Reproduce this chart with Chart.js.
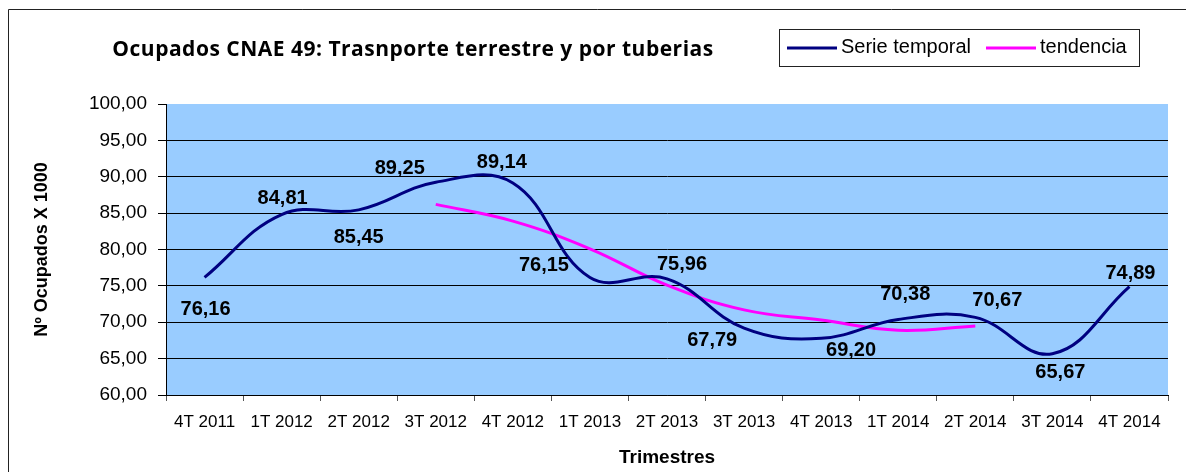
<!DOCTYPE html>
<html>
<head>
<meta charset="utf-8">
<script src="https://cdn.jsdelivr.net/npm/chart.js@4.4.1/dist/chart.umd.min.js"></script>
<style>
  html, body { margin: 0; padding: 0; background: #fff; }
  #wrap { width: 1186px; height: 472px; }
</style>
</head>
<body>
<div id="wrap"><canvas id="chart" width="1186" height="472"></canvas></div>
<script>
const categories = ['4T 2011', '1T 2012', '2T 2012', '3T 2012', '4T 2012', '1T 2013', '2T 2013',
    '3T 2013', '4T 2013', '1T 2014', '2T 2014', '3T 2014', '4T 2014'];
const serieTemporal = [76.16, 84.81, 85.45, 89.25, 89.14, 76.15, 75.96, 69.20, 67.79, 70.38, 70.67, 65.67, 74.89];
const tendencia = [null, null, null, 86.2, 83.9, 80.1, 75.1, 71.7, 70.3, 68.9, 69.5, null, null];

const chartTitle = 'Ocupados CNAE 49: Trasnporte terrestre y por tuberias';
const yTitle = 'Nº Ocupados X 1000';
const xTitle = 'Trimestres';

// where each data label sits relative to its point (px)
const labelOffsets = [[1, 32], [1, -16], [0, 28], [-36, -14], [-11, -21], [-46, -12], [15, -14],
    [107, 22], [-109, 2], [7, -25], [22, -17], [8, 19], [1, -13]];

const FONT = '"Liberation Sans", Arial, sans-serif';
const fmt = (v) => v.toFixed(2).replace('.', ',');

const background = {
    id: 'background',
    beforeDraw(chart) {
        const { ctx, chartArea: a } = chart;
        ctx.save();
        ctx.fillStyle = '#fff';
        ctx.fillRect(0, 0, chart.width, chart.height);
        ctx.strokeStyle = '#222';
        ctx.lineWidth = 1;
        ctx.beginPath();
        ctx.moveTo(8.5, chart.height);
        ctx.lineTo(8.5, 9.5);
        ctx.lineTo(chart.width, 9.5);
        ctx.stroke();
        ctx.fillStyle = '#99ccff';
        ctx.fillRect(a.left, a.top, a.right - a.left, a.bottom - a.top);
        ctx.restore();
    }
};

const decorations = {
    id: 'decorations',
    afterDatasetsDraw(chart) {
        const { ctx } = chart;
        const meta = chart.getDatasetMeta(0);
        ctx.save();
        ctx.fillStyle = '#000';
        ctx.font = 'bold 20px ' + FONT;
        ctx.textAlign = 'center';
        ctx.textBaseline = 'middle';
        meta.data.forEach((pt, i) => {
            const [dx, dy] = labelOffsets[i];
            ctx.fillText(fmt(serieTemporal[i]), pt.x + dx, pt.y + dy);
        });
        ctx.restore();
    },
    afterDraw(chart) {
        const { ctx } = chart;
        ctx.save();
        // title
        ctx.fillStyle = '#000';
        ctx.font = 'bold 21px "Open Sans", Lato, sans-serif';
        ctx.letterSpacing = '0.5px';
        ctx.textAlign = 'center';
        ctx.textBaseline = 'middle';
        ctx.fillText(chartTitle, 413, 50);
        ctx.letterSpacing = '0px';

        // legend box
        ctx.fillStyle = '#fff';
        ctx.fillRect(779.5, 29.5, 360, 37);
        ctx.strokeStyle = '#222';
        ctx.lineWidth = 1;
        ctx.strokeRect(779.5, 29.5, 360, 37);
        const items = [[787, chart.data.datasets[0]], [986, chart.data.datasets[1]]];
        ctx.font = '20px ' + FONT;
        ctx.textAlign = 'left';
        items.forEach(([x, ds]) => {
            ctx.strokeStyle = ds.borderColor;
            ctx.lineWidth = 3;
            ctx.beginPath();
            ctx.moveTo(x, 48);
            ctx.lineTo(x + 50, 48);
            ctx.stroke();
            ctx.fillStyle = '#000';
            ctx.fillText(ds.label, x + 54, 47);
        });
        ctx.restore();
    }
};

const data = {
    labels: categories,
    datasets: [
        {
            label: 'Serie temporal',
            data: serieTemporal,
            borderColor: '#000080',
            borderWidth: 3,
            pointRadius: 0,
            tension: 0.4,
            fill: false,
        },
        {
            label: 'tendencia',
            data: tendencia,
            borderColor: '#ff00ff',
            borderWidth: 3,
            pointRadius: 0,
            tension: 0.4,
            fill: false,
        }
    ]
};

const config = {
    type: 'line',
    data: data,
    options: {
        responsive: false,
        animation: false,
        layout: { padding: { left: 0, right: 18, top: 104, bottom: 0 } },
        plugins: {
            legend: { display: false },
            title: { display: false },
            tooltip: { enabled: false },
        },
        scales: {
            x: {
                offset: true,
                afterFit: (scale) => { scale.height = 77; },
                grid: { offset: true, drawOnChartArea: false, tickLength: 6, color: '#555' },
                border: { color: '#000', width: 1 },
                ticks: { color: '#000', font: { family: FONT, size: 17 }, padding: 11, maxRotation: 0, autoSkip: false },
                title: { display: true, text: xTitle, color: '#000', font: { family: FONT, size: 19, weight: 'bold' }, padding: { top: 0, bottom: 3 } },
            },
            y: {
                min: 60,
                max: 100,
                afterFit: (scale) => { scale.width = 166; },
                grid: {
                    tickLength: 8,
                    tickColor: '#000',
                    color: (c) => c.tick && c.tick.value === 100 ? 'rgba(0,0,0,0)' : '#000',
                },
                border: { color: '#000', width: 1 },
                ticks: { stepSize: 5, color: '#000', font: { family: FONT, size: 19 }, padding: 11, callback: (v) => fmt(v) },
                title: { display: true, text: yTitle, color: '#000', font: { family: FONT, size: 18, weight: 'bold' }, padding: { top: 31, bottom: 0 } },
            }
        }
    },
    plugins: [background, decorations]
};

new Chart(document.getElementById('chart'), config);
</script>
</body>
</html>
